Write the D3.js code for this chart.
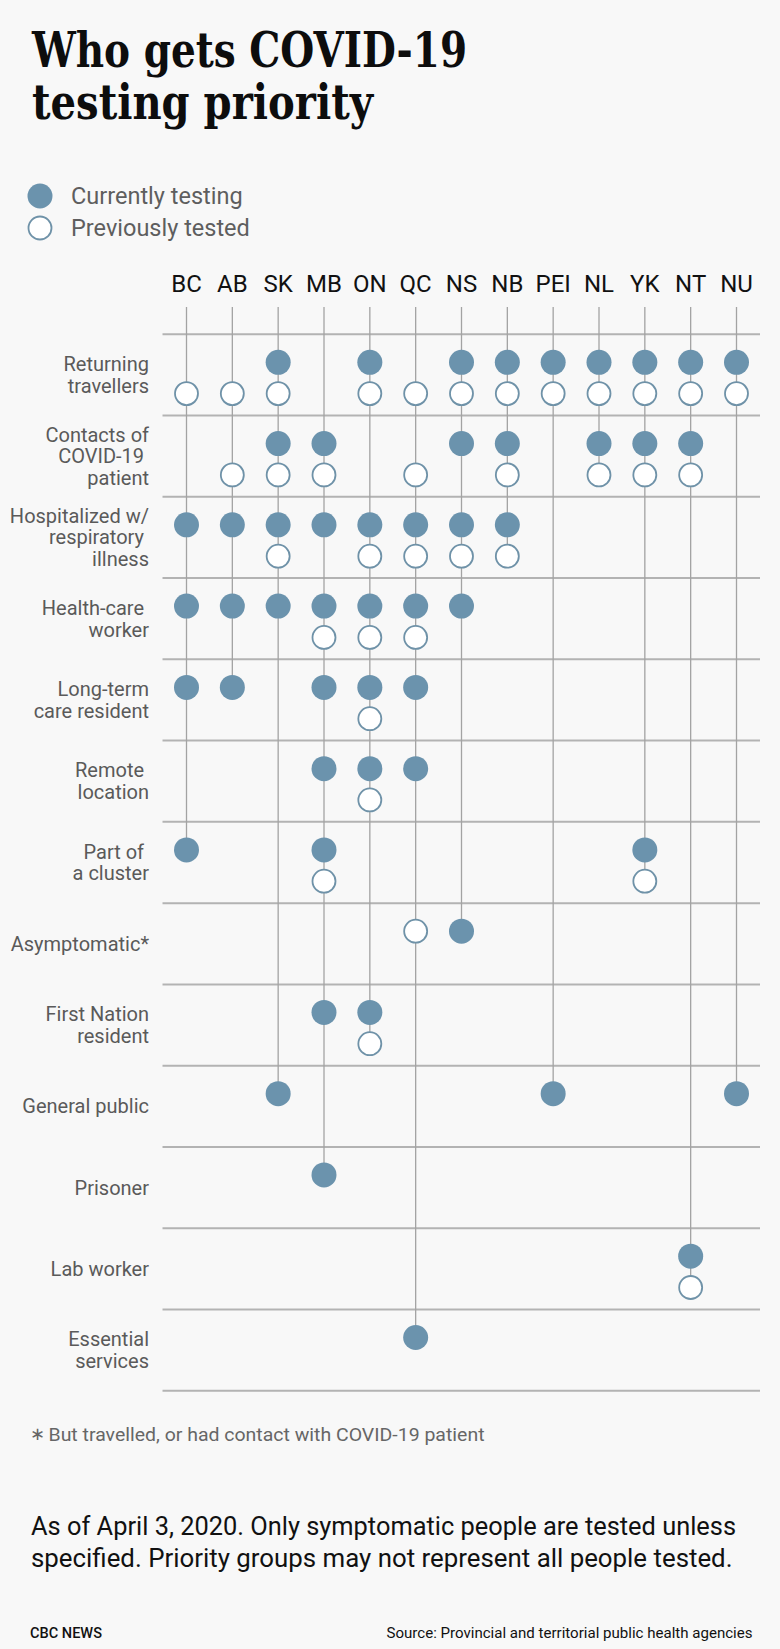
<!DOCTYPE html>
<html>
<head>
<meta charset="utf-8">
<script src="https://cdn.jsdelivr.net/npm/d3@7"></script>
<style>
  html, body { margin: 0; padding: 0; background: #f8f8f8; }
  svg { display: block; }
  text { font-family: Roboto, "Noto Sans", sans-serif; }
</style>
</head>
<body>
<script>
// ---- data ----
const provinces = ["BC","AB","SK","MB","ON","QC","NS","NB","PEI","NL","YK","NT","NU"];
const groups = ["Returning travellers","Contacts of COVID-19 patient","Hospitalized w/ respiratory illness",
  "Health-care worker","Long-term care resident","Remote location","Part of a cluster","Asymptomatic*",
  "First Nation resident","General public","Prisoner","Lab worker","Essential services"];
const groupLabelLines = [
  ["Returning","travellers"],
  ["Contacts of","COVID-19 ","patient"],
  ["Hospitalized w/","respiratory ","illness"],
  ["Health-care ","worker"],
  ["Long-term","care resident"],
  ["Remote ","location"],
  ["Part of ","a cluster"],
  ["Asymptomatic*"],
  ["First Nation","resident"],
  ["General public"],
  ["Prisoner"],
  ["Lab worker"],
  ["Essential","services"]
];
const currentlyTesting = [
  ["SK","ON","NS","NB","PEI","NL","YK","NT","NU"],
  ["SK","MB","NS","NB","NL","YK","NT"],
  ["BC","AB","SK","MB","ON","QC","NS","NB"],
  ["BC","AB","SK","MB","ON","QC","NS"],
  ["BC","AB","MB","ON","QC"],
  ["MB","ON","QC"],
  ["BC","MB","YK"],
  ["NS"],
  ["MB","ON"],
  ["SK","PEI","NU"],
  ["MB"],
  ["NT"],
  ["QC"]
];
const previouslyTested = [
  ["BC","AB","SK","ON","QC","NS","NB","PEI","NL","YK","NT","NU"],
  ["AB","SK","MB","QC","NB","NL","YK","NT"],
  ["SK","ON","QC","NS","NB"],
  ["MB","ON","QC"],
  ["ON"],
  ["ON"],
  ["MB","YK"],
  ["QC"],
  ["ON"],
  [],
  [],
  ["NT"],
  []
];
const legendLabels = ["Currently testing","Previously tested"];
const titleLines = ["Who gets COVID-19","testing priority"];
const footnote = "But travelled, or had contact with COVID-19 patient";
const noteLines = ["As of April 3, 2020. Only symptomatic people are tested unless",
  "specified. Priority groups may not represent all people tested."];
const credit = "CBC NEWS";
const source = "Source: Provincial and territorial public health agencies";

// ---- layout ----
const W = 780, H = 1649;
const FILL = "#6b93ad", STROKE = "#6f92a8";
const svg = d3.select("body").append("svg").attr("width", W).attr("height", H);
svg.append("rect").attr("width", W).attr("height", H).attr("fill", "#f8f8f8");

// title
const title = svg.append("g");
[[titleLines[0], 67, 435],[titleLines[1], 119, 341]].forEach(([t, y, len]) => {
  title.append("text").attr("x", 32).attr("y", y).text(t)
    .style("font-family", "'DejaVu Serif', 'Liberation Serif', serif")
    .attr("font-weight", 700).attr("font-size", 48).attr("fill", "#0d0d0d")
    .attr("textLength", len).attr("lengthAdjust", "spacingAndGlyphs");
});

// legend
const legend = svg.append("g");
legendLabels.forEach((l, i) => {
  const cy = 196 + i * 32;
  legend.append("circle").attr("cx", 40).attr("cy", cy).attr("r", i === 0 ? 12.5 : 11.5)
    .attr("fill", i === 0 ? FILL : "#fff").attr("stroke", i === 0 ? "none" : STROKE).attr("stroke-width", 1.8);
  legend.append("text").attr("x", 71).attr("y", cy + 8).text(l)
    .attr("font-size", 23.5).attr("fill", "#5e5e5e");
});

// scales
const x = d3.scalePoint().domain(provinces).range([186.5, 736.5]);
const y = d3.scaleBand().domain(groups).range([334.3, 1390.7]).paddingInner(0).paddingOuter(0);
const bw = y.bandwidth();
const upperOff = 0.345 * bw, lowerOff = 0.73 * bw;

// build dots
const dots = [];
groups.forEach((g, i) => {
  const cur = currentlyTesting[i], prev = previouslyTested[i];
  const hasBoth = provinces.some(p => cur.includes(p) && prev.includes(p));
  cur.forEach(p => dots.push({g, p, type: "current", cy: y(g) + upperOff}));
  prev.forEach(p => dots.push({g, p, type: "previous", cy: y(g) + (hasBoth ? lowerOff : upperOff)}));
});

// column headers
svg.append("g").selectAll("text").data(provinces).join("text")
  .attr("x", d => x(d)).attr("y", 292).attr("text-anchor", "middle")
  .attr("font-size", 24).attr("fill", "#111").text(d => d);

// horizontal rules
const rules = groups.map(g => y(g)).concat([y.range()[1]]);
svg.append("g").selectAll("line").data(rules).join("line")
  .attr("x1", 162.5).attr("x2", 760).attr("y1", d => d).attr("y2", d => d)
  .attr("stroke", "#b3b3b3").attr("stroke-width", 2);

// vertical lines per province to last dot
const lineTop = 307;
svg.append("g").selectAll("line").data(provinces).join("line")
  .attr("x1", d => x(d)).attr("x2", d => x(d))
  .attr("y1", lineTop)
  .attr("y2", d => d3.max(dots.filter(o => o.p === d), o => o.cy))
  .attr("stroke", "#a3a3a3").attr("stroke-width", 1.3);

// dots
svg.append("g").selectAll("circle").data(dots).join("circle")
  .attr("cx", d => x(d.p)).attr("cy", d => d.cy)
  .attr("r", d => d.type === "current" ? 12.5 : 11.5)
  .attr("fill", d => d.type === "current" ? FILL : "#fff")
  .attr("stroke", d => d.type === "current" ? "none" : STROKE)
  .attr("stroke-width", 1.8);

// row labels
const lh = 21.6;
const labG = svg.append("g");
groups.forEach((g, i) => {
  const lines = groupLabelLines[i];
  const mid = y(g) + bw / 2;
  const firstBase = mid - (lines.length - 1) * lh / 2 + 7;
  lines.forEach((t, j) => {
    labG.append("text").attr("x", 149).attr("y", firstBase + j * lh)
      .attr("text-anchor", "end").attr("font-size", 20).attr("fill", "#5a5a5a")
      .style("white-space", "pre").text(t);
  });
});

// footnote
svg.append("text").attr("x", 30).attr("y", 1440).attr("font-size", 18).attr("fill", "#666").text("\u2217");
svg.append("text").attr("x", 48.5).attr("y", 1440.7).attr("font-size", 18.5).attr("fill", "#666")
  .attr("textLength", 436).attr("lengthAdjust", "spacingAndGlyphs").text(footnote);

// note
[[noteLines[0], 705], [noteLines[1], 701.5]].forEach(([t, len], i) => {
  svg.append("text").attr("x", 31).attr("y", 1535 + i * 31.7).attr("font-size", 25).attr("fill", "#111")
    .attr("textLength", len).attr("lengthAdjust", "spacingAndGlyphs").text(t);
});

// credit/source
svg.append("text").attr("x", 30).attr("y", 1638).attr("font-size", 14).attr("font-weight", 500).attr("fill", "#111")
  .attr("textLength", 72).attr("lengthAdjust", "spacingAndGlyphs").text(credit);
svg.append("text").attr("x", 752.5).attr("y", 1638).attr("text-anchor", "end").attr("font-size", 15).attr("fill", "#111")
  .attr("textLength", 366).attr("lengthAdjust", "spacingAndGlyphs").text(source);
</script>
</body>
</html>
